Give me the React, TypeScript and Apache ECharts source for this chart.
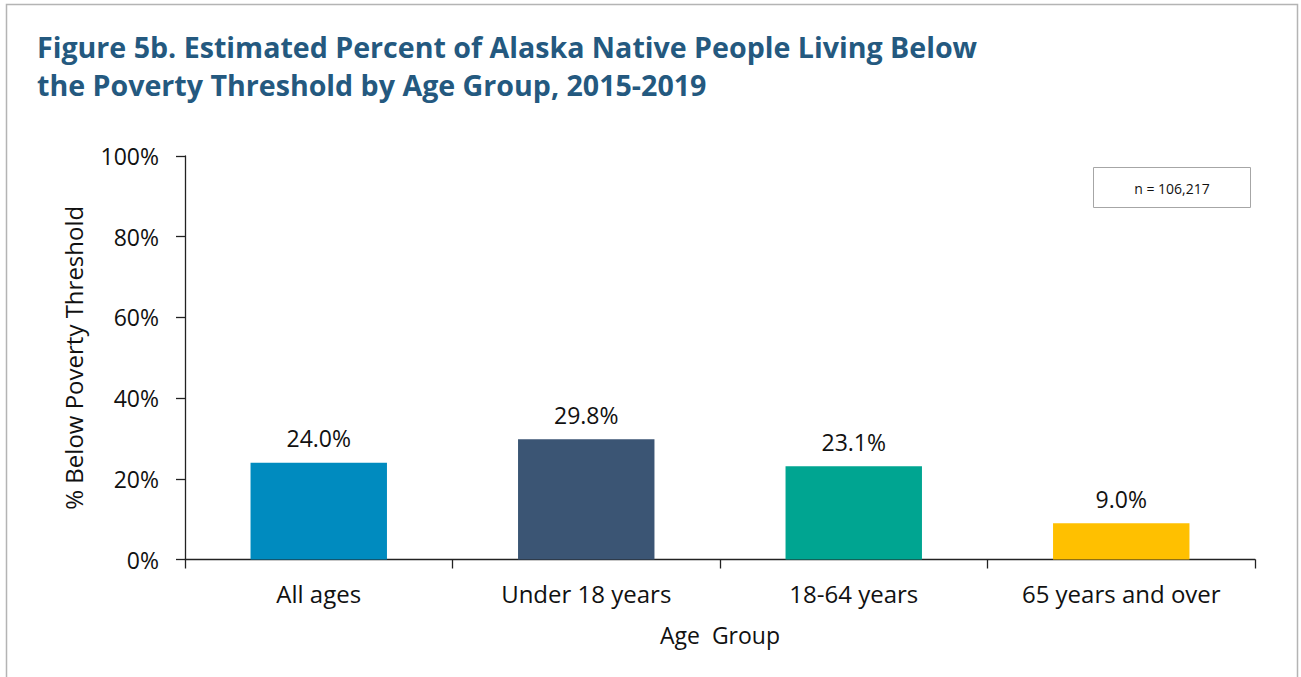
import React, { useEffect, useRef } from "react";
import * as echarts from "echarts";

const categories = ["All ages", "Under 18 years", "18-64 years", "65 years and over"];
const values = [24.0, 29.8, 23.1, 9.0];
const barColors = ["#008bbf", "#3b5574", "#00a591", "#ffc000"];
const yTicks = [0, 20, 40, 60, 80, 100];
const titleText = "Figure 5b. Estimated Percent of Alaska Native People Living Below\nthe Poverty Threshold by Age Group, 2015-2019";
const nText = "n = 106,217";

export default function App() {
  const ref = useRef<HTMLDivElement>(null);
  useEffect(() => {
    document.body.style.margin = "0";
    const chart = echarts.init(ref.current!, null, { renderer: "svg" });
    const font = "'Open Sans', sans-serif";
    chart.setOption({
      animation: false,
      backgroundColor: "#ffffff",
      title: {
        text: titleText,
        left: 32,
        top: 22,
        textStyle: {
          fontFamily: "'Open Sans', sans-serif",
          fontWeight: "bold",
          fontSize: 28.6,
          lineHeight: 38,
          color: "#24597f",
        },
      },
      grid: { left: 185, right: 46, top: 156, bottom: 117.5, containLabel: false },
      xAxis: {
        type: "category",
        data: categories,
        name: "Age  Group",
        nameLocation: "middle",
        nameGap: 64,
        nameTextStyle: { fontFamily: font, fontSize: 23, color: "#111" },
        axisLine: { lineStyle: { color: "#222", width: 1.3 } },
        axisTick: { show: true, length: 9, lineStyle: { color: "#222", width: 1.3 } },
        axisLabel: { fontFamily: font, fontSize: 24, color: "#111", margin: 22 },
        splitLine: { show: false },
      },
      yAxis: {
        type: "value",
        min: yTicks[0],
        max: yTicks[yTicks.length - 1],
        interval: 20,
        name: "% Below Poverty Threshold",
        nameLocation: "middle",
        nameGap: 100,
        nameTextStyle: { fontFamily: font, fontSize: 24, color: "#111" },
        axisLine: { show: true, lineStyle: { color: "#222", width: 1.3 } },
        axisTick: { show: true, length: 9, lineStyle: { color: "#222", width: 1.3 } },
        axisLabel: {
          fontFamily: font,
          fontSize: 23,
          color: "#111",
          margin: 26,
          formatter: "{value}%",
        },
        splitLine: { show: false },
      },
      series: [
        {
          type: "bar",
          data: values.map((v, i) => ({ value: v, itemStyle: { color: barColors[i] } })),
          barWidth: "51%",
          label: {
            show: true,
            position: "top",
            distance: 13,
            fontFamily: font,
            fontSize: 23,
            color: "#111",
            formatter: (p: any) => p.value.toFixed(1) + "%",
          },
        },
      ],
      graphic: [
        {
          type: "rect",
          shape: { x: 6.5, y: 4.5, width: 1291, height: 700 },
          style: { fill: "none", stroke: "#b4b4b4", lineWidth: 1.5 },
          silent: true,
        },
        {
          type: "rect",
          shape: { x: 1093.5, y: 167.5, width: 157, height: 40 },
          style: { fill: "#ffffff", stroke: "#a6a6a6", lineWidth: 1 },
        },
        {
          type: "text",
          x: 1172,
          y: 188,
          style: {
            text: nText,
            fontFamily: font,
            fontSize: 14,
            fill: "#111",
            align: "center",
            verticalAlign: "middle",
          },
        },
      ],
    });
    return () => chart.dispose();
  }, []);
  return <div ref={ref} style={{ position: "absolute", left: 0, top: 0, width: 1301, height: 677 }} />;
}
